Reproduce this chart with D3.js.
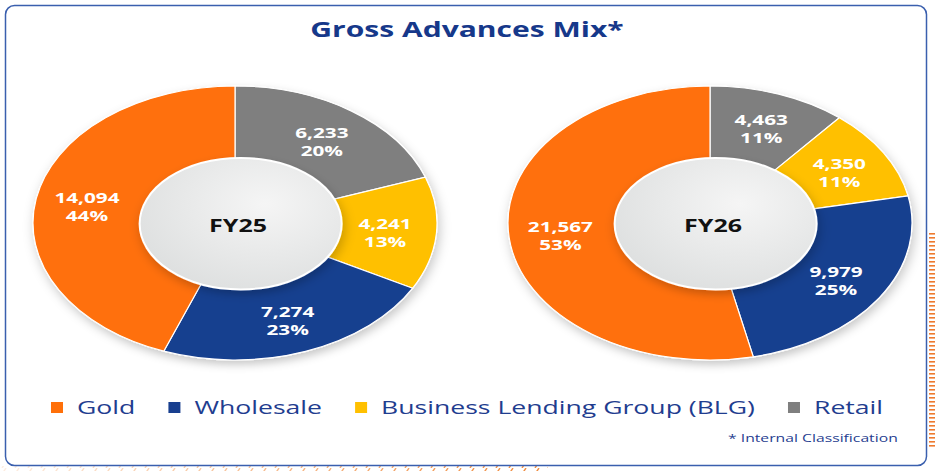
<!DOCTYPE html>
<html>
<head>
<meta charset="utf-8">
<script src="https://cdn.jsdelivr.net/npm/d3@7"></script>
<style>
  body { margin: 0; background: #fff; }
  svg { display: block; font-family: "Open Sans", sans-serif; }
</style>
</head>
<body>
<svg width="935" height="471"></svg>
<script>
// data
const categories = ["Retail", "Business Lending Group (BLG)", "Wholesale", "Gold"];
const legendOrder = ["Gold", "Wholesale", "Business Lending Group (BLG)", "Retail"];
const years = ["FY25", "FY26"];
const fy25 = [6233, 4241, 7274, 14094];
const fy26 = [4463, 4350, 9979, 21567];
const fy25Pct = ["20%", "13%", "23%", "44%"];
const fy26Pct = ["11%", "11%", "25%", "53%"];

const series = [
  { year: "FY25", values: fy25, pct: fy25Pct },
  { year: "FY26", values: fy26, pct: fy26Pct }
];

const W = 935, H = 471;
const sx = 1.43;          // the picture is stretched horizontally
const R = 100;            // unit radius, scaled to an ellipse
const rx = 202, ry = 137;

const svg = d3.select("svg");

const color = d3.scaleOrdinal()
  .domain(categories)
  .range(["#7f7f7f", "#ffc000", "#183f8f", "#ff7009"]);

const xPie = d3.scalePoint().domain(years).range([235, 710]);
const cy = 223;

const defs = svg.append("defs");

const shadow = defs.append("filter").attr("id", "shadow")
  .attr("x", "-20%").attr("y", "-20%").attr("width", "140%").attr("height", "140%");
shadow.append("feDropShadow")
  .attr("dx", 1).attr("dy", 3).attr("stdDeviation", 3)
  .attr("flood-color", "#000").attr("flood-opacity", 0.22);

const grad = defs.append("radialGradient").attr("id", "hole")
  .attr("cx", "62%").attr("cy", "35%").attr("r", "75%");
grad.append("stop").attr("offset", "0%").attr("stop-color", "#f5f5f5");
grad.append("stop").attr("offset", "100%").attr("stop-color", "#dcdede");

const hatch = defs.append("pattern").attr("id", "hatch")
  .attr("width", 7).attr("height", 4).attr("patternUnits", "userSpaceOnUse");
hatch.append("rect").attr("x", 0).attr("y", 1).attr("width", 7).attr("height", 1.6)
  .attr("fill", "#ee7a2e");

const diag = defs.append("pattern").attr("id", "diag")
  .attr("width", 13).attr("height", 6).attr("patternUnits", "userSpaceOnUse");
diag.append("line").attr("x1", 2).attr("y1", 6).attr("x2", 6).attr("y2", 0)
  .attr("stroke", "#f08a3c").attr("stroke-width", 1.4);

const fade = defs.append("linearGradient").attr("id", "fade");
fade.append("stop").attr("offset", "0%").attr("stop-color", "#fff").attr("stop-opacity", 0.85);
fade.append("stop").attr("offset", "100%").attr("stop-color", "#fff").attr("stop-opacity", 0);

// background decoration and frame
svg.append("rect")
  .attr("x", 929).attr("y", 232).attr("width", 6).attr("height", 216)
  .attr("fill", "url(#hatch)");
svg.append("rect")
  .attr("x", 0).attr("y", 466).attr("width", 548).attr("height", 5)
  .attr("fill", "url(#diag)");
svg.append("rect")
  .attr("x", 0).attr("y", 466).attr("width", 548).attr("height", 5)
  .attr("fill", "url(#fade)");

svg.append("rect")
  .attr("x", 5.5).attr("y", 5.5).attr("width", 921).attr("height", 460)
  .attr("rx", 9)
  .attr("fill", "#fff")
  .attr("stroke", "#3a5fae")
  .attr("stroke-width", 1.5);

// title
svg.append("text")
  .attr("transform", `translate(${W / 2 - 0.5},37) scale(${sx},1)`)
  .attr("text-anchor", "middle")
  .attr("font-weight", 700)
  .attr("font-size", 21)
  .attr("fill", "#16388a")
  .text("Gross Advances Mix*");

const pie = d3.pie().sort(null).value(d => d);
const arc = d3.arc().innerRadius(R * 0.45).outerRadius(R);
const labelArc = d3.arc().innerRadius(R * 0.745).outerRadius(R * 0.745);

series.forEach(s => {
  const cx = xPie(s.year);
  const arcs = pie(s.values);

  const g = svg.append("g")
    .attr("transform", `translate(${cx},${cy}) scale(${rx / R},${ry / R})`);

  g.append("g").attr("filter", "url(#shadow)")
    .selectAll("path")
    .data(arcs)
    .join("path")
    .attr("d", arc)
    .attr("fill", (d, i) => color(categories[i]))
    .attr("stroke", "#fff")
    .attr("stroke-width", 1.2)
    .attr("vector-effect", "non-scaling-stroke");

  g.append("ellipse")
    .attr("cx", 2.8).attr("cy", 0.5)
    .attr("rx", 50).attr("ry", 48)
    .attr("fill", "url(#hole)")
    .attr("stroke", "#fff")
    .attr("stroke-width", 2)
    .attr("vector-effect", "non-scaling-stroke")
    .attr("filter", "url(#shadow)");

  // center year
  svg.append("text")
    .attr("transform", `translate(${cx + 3},${cy + 9}) scale(${sx},1)`)
    .attr("text-anchor", "middle")
    .attr("font-weight", 700)
    .attr("font-size", 17.5)
    .attr("fill", "#111")
    .text(s.year);

  // slice labels
  const lab = svg.append("g");
  arcs.forEach((d, i) => {
    const [ux, uy] = labelArc.centroid(d);
    const x = cx + ux * rx / R;
    const y = cy + uy * ry / R;
    const t = lab.append("text")
      .attr("transform", `translate(${x},${y}) scale(${sx},1)`)
      .attr("text-anchor", "middle")
      .attr("font-weight", 700)
      .attr("font-size", 14.5)
      .attr("fill", "#fff");
    t.append("tspan").attr("x", 0).attr("y", -2).text(d3.format(",")(s.values[i]));
    t.append("tspan").attr("x", 0).attr("y", 16).text(s.pct[i]);
  });
});

// legend
const legend = svg.append("g");
const items = legendOrder.map(name => {
  const gi = legend.append("g");
  gi.append("rect")
    .attr("x", 0).attr("y", -12)
    .attr("width", 12).attr("height", 11)
    .attr("fill", color(name));
  const t = gi.append("text")
    .attr("transform", `translate(26,0) scale(${sx},1)`)
    .attr("font-size", 18.6)
    .attr("fill", "#1f3d8f")
    .text(name);
  return { gi, w: 26 + t.node().getComputedTextLength() * sx };
});
const left = 51, right = 883;
const gap = (right - left - d3.sum(items, d => d.w)) / (items.length - 1);
let xpos = left;
items.forEach(d => {
  d.gi.attr("transform", `translate(${xpos},414)`);
  xpos += d.w + gap;
});

// footnote
svg.append("text")
  .attr("transform", `translate(728,442) scale(${sx},1)`)
  .attr("font-size", 11)
  .attr("fill", "#1f3d8f")
  .text("* Internal Classification");
</script>
</body>
</html>
